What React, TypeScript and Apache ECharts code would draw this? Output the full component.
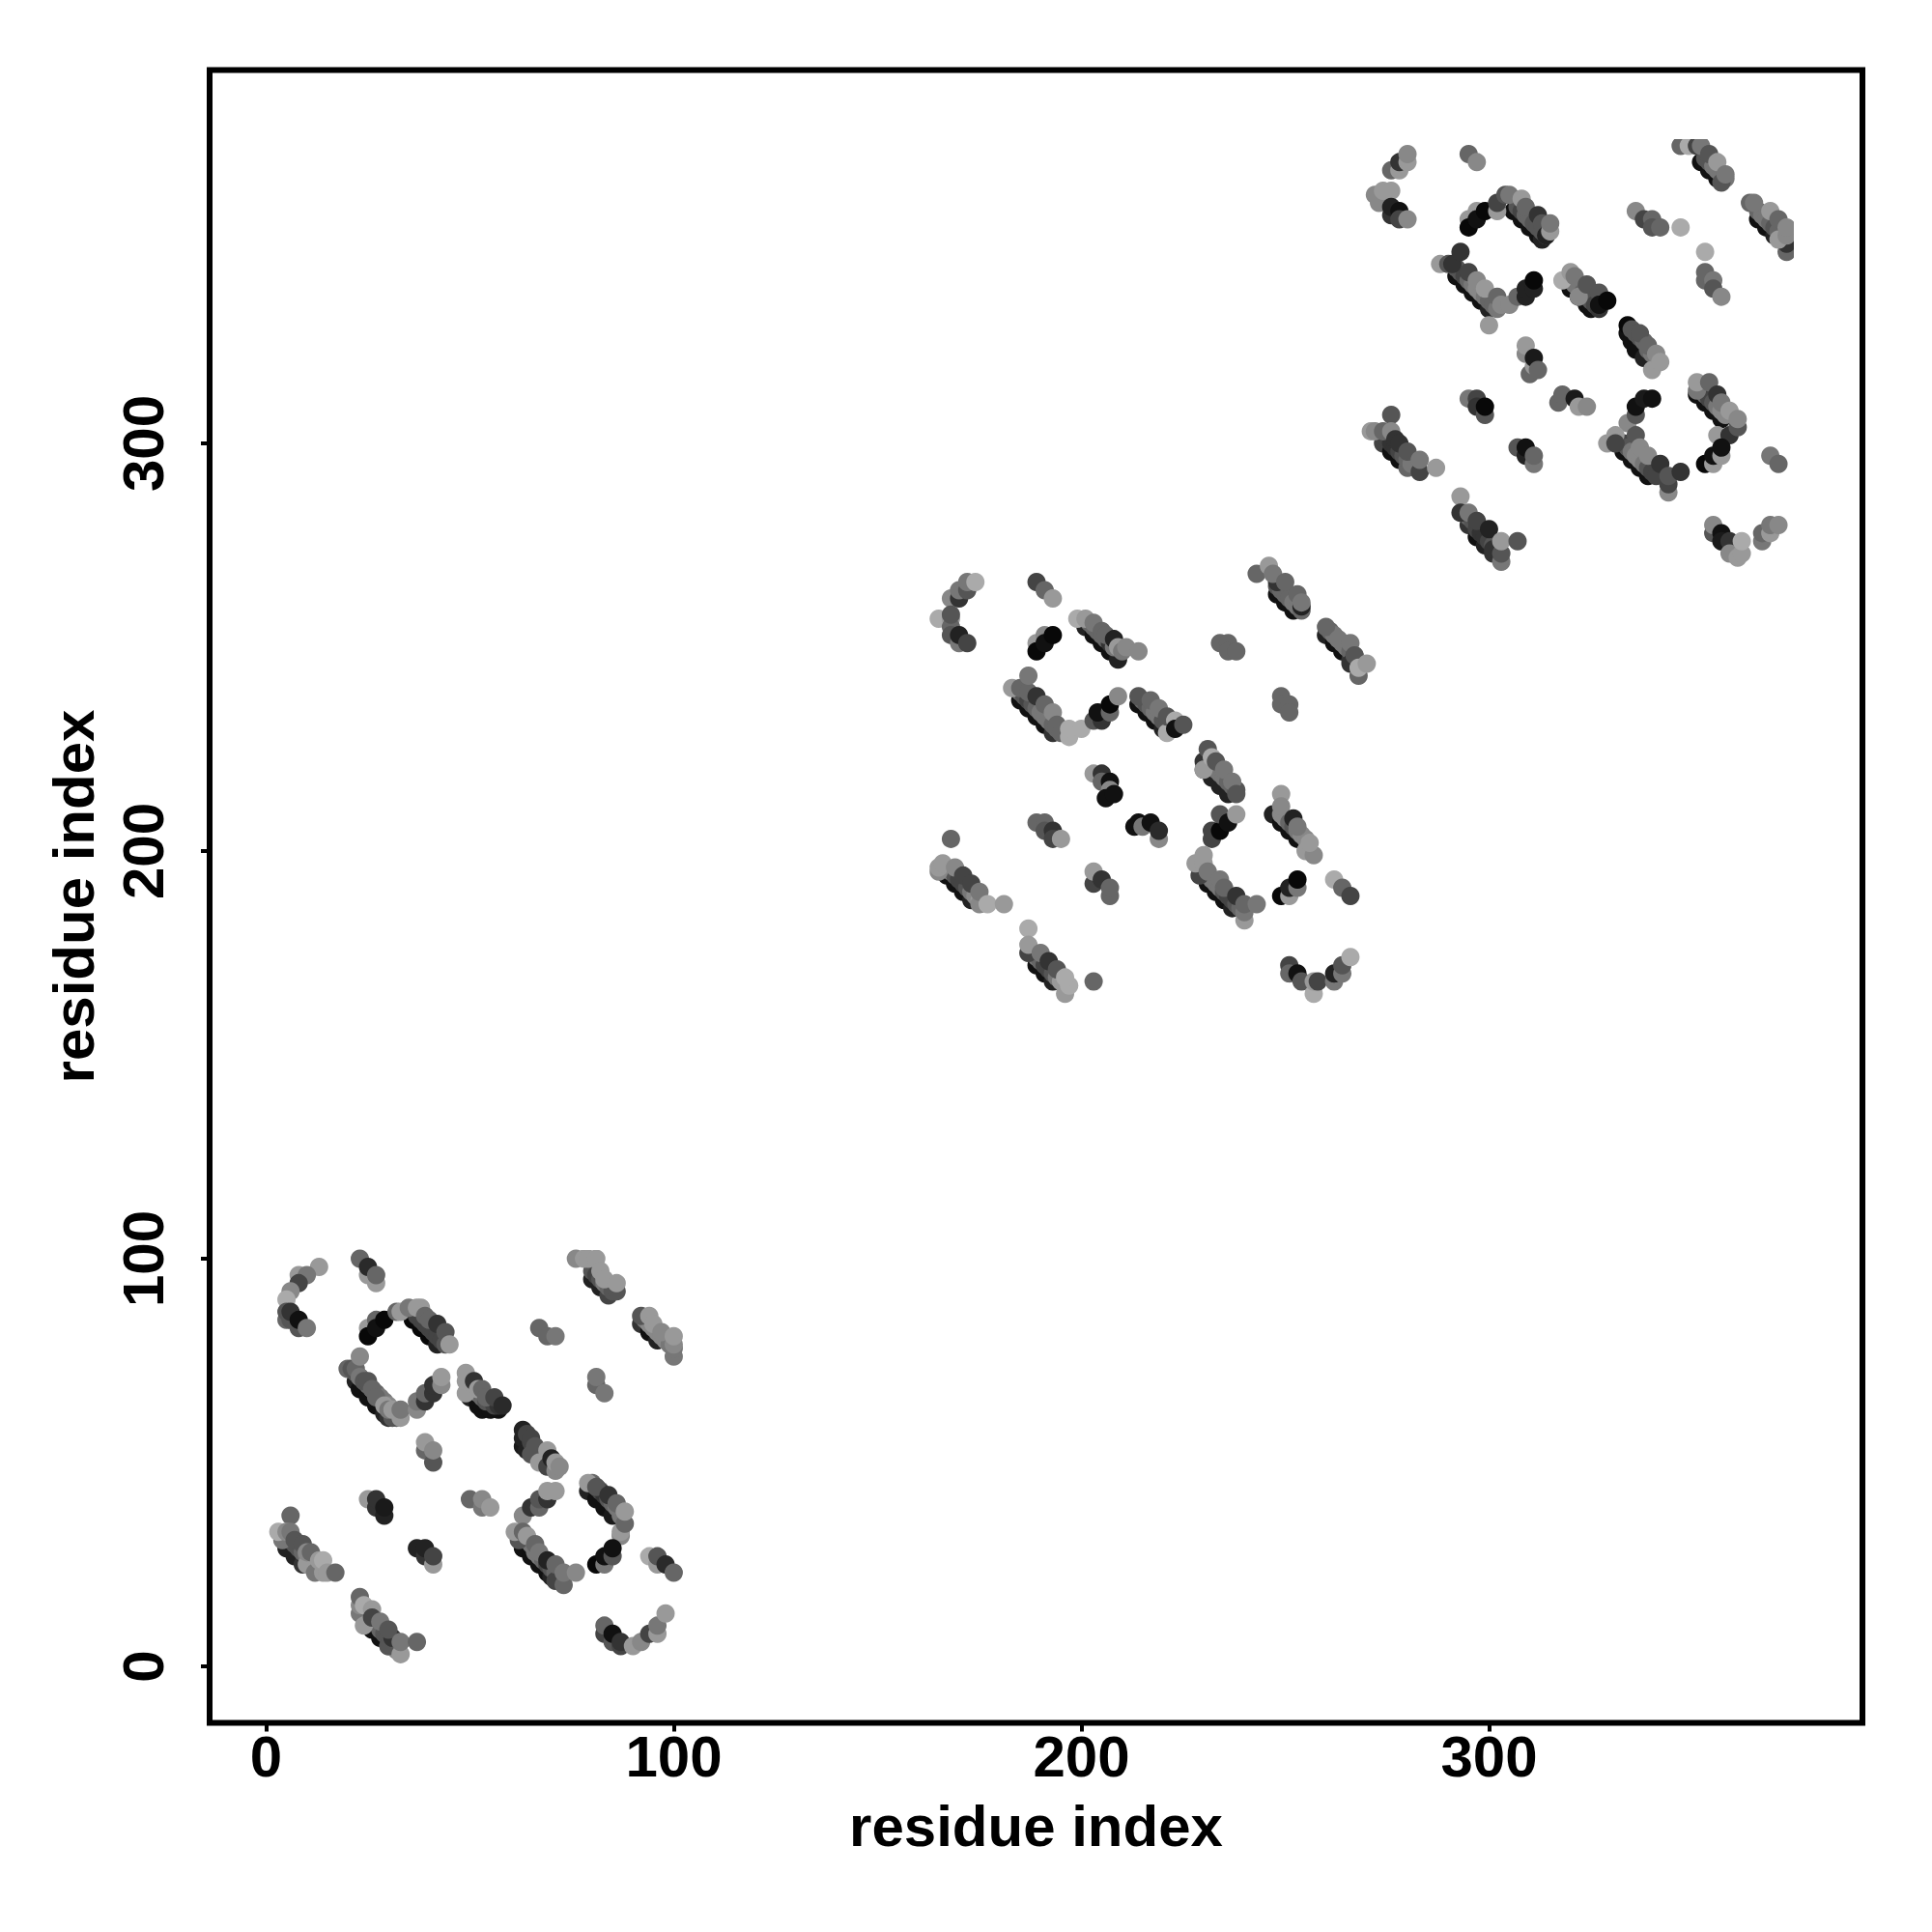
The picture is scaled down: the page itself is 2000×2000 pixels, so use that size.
import React, { useEffect, useRef } from "react";
import * as echarts from "echarts";

// [residue x, residue y, grey level]
const blockOneLower: number[][] = [
  [36,85,8],[38,83,8],[40,81,8],[42,79,34],
  [22,70,34],[23,68,17],[25,66,17],[27,64,17],[29,62,34],[30,61,51],
  [50,66,34],[52,64,17],[53,63,17],[55,63,17],[57,63,17],
  [63,54,26],[63,56,34],[63,58,34],[64,53,34],
  [79,43,34],[81,41,17],[83,39,17],[85,37,26],
  [63,29,17],[65,27,17],[67,25,17],[69,23,17],[70,22,34],
  [5,29,34],[7,27,34],[9,25,51],
  [26,9,17],[28,7,17],[30,5,85],
  [80,95,34],[82,93,34],[84,91,68],
  [92,84,51],[94,82,17],[96,80,34],
];
const blockOneMiddle: number[][] = [
  [37,86,68],[38,85,68],[39,84,68],[40,83,68],[41,82,68],[42,81,68],[43,80,68],[44,79,85],
  [22,72,85],[23,71,119],[24,70,85],[25,69,102],[26,68,102],[27,67,102],[28,66,119],[29,65,119],[30,64,136],[31,62,102],[32,61,102],
  [51,68,85],[52,67,119],[53,66,102],[54,65,85],[55,65,85],[56,64,68],[57,64,51],
  [64,57,68],[65,55,68],[66,53,85],[67,52,85],[68,51,85],[69,50,68],[70,49,85],
  [80,45,102],[81,44,85],[82,43,68],[83,42,51],[84,41,85],[85,40,102],[86,39,119],[87,37,119],
  [63,32,102],[64,31,119],[65,30,119],[66,28,119],[67,27,119],[68,26,102],[69,25,68],[70,24,85],[71,23,102],[72,22,102],
  [6,31,102],[7,30,85],[8,29,85],[9,28,102],[10,27,119],[11,26,136],[12,25,153],
  [25,13,119],[26,12,85],[27,11,102],[28,9,102],[29,8,85],[30,7,85],[31,5,119],[32,4,136],
  [80,97,85],[81,96,68],[82,95,85],[83,94,119],[84,93,102],[85,92,85],
  [93,85,119],[94,84,136],[95,83,136],[96,82,136],[97,81,136],[98,80,136],[99,79,119],
];
const blockOneUpper: number[][] = [
  [13,98,153],[8,96,153],[10,96,119],[8,94,68],[6,92,136],[5,90,170],[5,85,102],[5,87,85],[6,85,85],[6,87,51],[8,83,85],[8,85,17],[10,83,119],
  [23,100,102],[25,96,153],[27,94,153],[25,98,42],[27,96,102],
  [25,83,153],[25,81,8],[27,85,102],[27,83,17],[29,85,8],[32,87,102],[33,87,153],
  [35,88,119],[37,88,153],[38,88,153],[39,86,102],[40,85,102],[42,84,51],[44,82,85],[45,79,153],
  [31,61,85],[33,61,153],[20,73,102],[21,73,85],[22,73,102],[23,76,136],[23,71,119],[24,70,85],[25,70,85],[26,68,102],[27,66,102],[29,64,153],[30,63,119],[31,63,153],[33,63,119],
  [37,63,136],[37,65,119],[39,65,51],[39,67,102],[41,67,51],[41,69,51],[43,69,136],[43,71,153],
  [49,67,153],[49,70,153],[49,72,153],[51,70,51],[52,68,153],[53,68,102],[54,66,102],[56,66,68],[58,64,42],
  [67,83,102],[69,81,102],[71,81,119],
  [81,69,102],[81,71,119],[83,67,119],
  [39,53,102],[39,55,153],[41,50,85],[41,53,136],
  [65,52,85],[65,56,68],[66,54,85],[67,50,153],[69,49,68],[69,53,153],[70,51,34],[71,48,136],[71,50,153],[72,49,136],
  [25,41,153],[27,39,51],[27,41,51],[29,37,34],[29,39,26],
  [50,41,102],[53,39,119],[53,41,136],[55,39,153],
  [63,37,136],[65,39,51],[67,39,102],[67,41,85],[69,41,51],[69,43,153],[71,43,153],
  [79,45,153],[81,44,85],[84,42,51],[86,40,102],[87,32,136],[87,33,153],[88,35,102],[88,38,153],
  [81,25,8],[83,25,119],[83,27,17],[85,27,85],[85,29,17],
  [62,31,85],[61,33,153],[63,33,102],[64,32,153],[66,30,102],[67,28,119],[69,26,34],[71,21,68],[71,25,102],[73,20,102],[73,23,119],[76,23,136],
  [94,27,170],[96,25,153],[96,27,85],[98,25,42],[100,23,102],
  [6,37,102],[4,31,119],[3,33,170],[5,33,136],[6,33,119],[7,31,85],[9,30,85],[10,25,153],[10,28,136],[11,28,102],[12,23,119],[13,26,153],[14,23,153],[14,26,170],[15,23,153],[17,23,102],
  [37,29,34],[39,27,51],[39,29,34],[41,25,153],[41,27,68],
  [23,13,119],[23,15,136],[23,17,102],[24,10,153],[24,15,170],[26,14,153],[26,12,68],[28,11,119],[30,5,85],[31,7,51],[30,9,85],[33,3,153],[33,6,119],[37,6,102],
  [76,100,136],[78,100,153],[79,100,153],[81,100,153],[86,92,85],[82,97,153],[83,95,153],[86,94,153],
  [92,86,85],[94,86,153],[95,84,153],[97,82,136],[100,76,119],[100,78,119],[100,79,136],[100,81,153],
  [83,8,68],[83,10,102],[85,6,85],[85,8,17],[87,5,68],[87,6,51],[90,5,153],[92,6,136],[94,8,68],[96,8,153],[96,10,119],[98,13,153],
];

const blockTwoLower: number[][] = [
  [201,255,34],[203,253,17],[205,251,17],[207,249,17],[209,247,34],
  [185,237,17],[187,235,17],[189,233,17],[191,231,17],[193,229,51],
  [214,236,17],[216,234,17],[218,232,17],[220,230,34],
  [248,263,17],[250,261,17],[252,259,17],
  [260,253,34],[262,251,17],[264,249,17],[266,247,51],
  [230,222,51],[230,220,68],[232,218,34],[234,216,34],[236,214,34],
  [247,209,34],[249,207,17],[251,205,17],[253,203,17],
  [167,194,17],[169,192,17],[171,190,17],[173,188,34],
  [231,192,17],[233,190,17],[235,188,17],[237,186,34],
  [189,172,17],[191,170,17],[193,168,34],
];
const blockTwoMiddle: number[][] = [
  [202,256,102],[203,255,102],[204,254,102],[205,253,102],[206,252,102],[207,251,51],[208,250,119],
  [185,239,102],[186,238,85],[187,237,68],[188,236,85],[189,235,102],[190,234,119],[191,233,119],[192,232,119],[193,231,102],[194,230,102],
  [215,237,102],[216,236,85],[217,235,102],[218,234,119],[219,233,119],[220,232,85],[221,231,85],[222,230,85],
  [248,265,85],[249,264,102],[250,263,102],[251,262,102],[252,261,119],[253,260,119],[254,259,102],
  [261,254,102],[262,253,119],[263,252,119],[264,251,119],[265,250,119],[266,249,102],[267,248,85],
  [232,221,85],[233,220,119],[234,219,119],[235,218,119],[236,217,102],[237,216,102],[238,215,85],
  [249,209,136],[250,208,136],[251,207,102],[252,206,85],[253,205,119],[254,204,136],[255,203,136],
  [168,195,136],[169,194,85],[170,193,68],[171,192,68],[172,191,85],[173,190,119],[174,189,136],[175,188,153],
  [231,194,119],[232,193,119],[233,192,119],[234,191,119],[235,190,85],[236,189,68],[237,188,68],[238,187,85],[239,186,102],
  [189,174,119],[190,173,102],[191,172,68],[192,171,68],[193,170,85],[194,169,119],[195,168,153],
];
const blockTwoUpper: number[][] = [
  [168,262,136],[170,262,51],[170,264,119],[172,264,85],[172,266,119],[174,266,170],
  [165,257,170],[168,257,153],[168,255,102],[168,253,85],[168,258,85],[170,251,119],[170,253,34],[172,251,68],
  [189,266,68],[191,264,102],[193,262,153],
  [189,251,153],[189,249,8],[191,253,136],[191,251,17],[193,253,8],
  [199,257,170],[201,257,153],[203,256,119],[205,254,102],[206,253,102],[208,252,34],[209,250,153],[210,249,119],[211,250,136],[214,249,136],
  [183,240,153],[185,240,102],[187,239,102],[187,243,119],[189,238,51],[191,236,102],[193,234,136],[194,231,102],[195,229,102],[197,228,170],[197,230,170],[200,230,170],
  [203,232,85],[205,232,51],[204,234,17],[207,234,102],[207,236,8],[209,238,136],
  [214,238,85],[217,237,102],[219,235,119],[221,229,170],[221,233,85],[223,232,170],[223,230,17],[225,231,85],
  [234,251,102],[236,251,102],[236,249,102],[238,249,102],
  [243,268,102],[248,266,51],[246,270,153],[247,268,119],[250,266,102],[253,263,102],[254,260,34],[254,261,119],
  [260,255,102],[263,252,119],[266,246,51],[266,251,119],[267,248,85],[268,243,102],[268,245,170],[270,246,153],
  [249,238,102],[249,236,102],[251,236,102],[251,234,102],
  [203,219,153],[205,219,51],[205,217,102],[207,217,17],[207,215,136],[206,213,17],[208,214,17],
  [230,220,153],[231,225,85],[232,223,170],[233,222,85],[235,220,119],[237,217,119],[238,214,85],
  [189,207,102],[191,207,102],[191,205,85],[193,205,51],[193,203,68],[195,203,153],
  [213,206,17],[214,207,17],[215,206,119],[217,207,17],[219,203,136],[219,205,42],
  [232,203,68],[232,205,68],[234,205,8],[234,209,85],[236,207,17],[238,209,153],
  [249,214,153],[249,211,136],[252,208,34],[253,206,119],[255,200,153],[257,199,136],[256,202,153],
  [249,189,8],[251,189,153],[251,191,34],[253,191,119],[253,193,8],
  [262,193,170],[264,191,102],[266,189,68],
  [168,203,102],
  [165,195,136],[165,196,153],[166,197,153],[169,196,136],[171,194,68],[173,192,68],[175,187,136],[175,190,119],[177,187,170],[181,187,153],
  [203,192,68],[203,195,153],[205,193,51],[207,189,102],[207,191,102],
  [229,194,68],[228,197,153],[230,197,153],[230,199,153],[231,195,119],[234,193,119],[235,191,102],[238,189,51],[240,183,153],[240,185,119],[240,187,102],[243,187,119],
  [187,181,170],[187,175,68],[187,177,153],[190,175,119],[192,173,51],[194,171,85],[196,165,153],[197,167,170],[196,169,170],
  [203,168,102],
  [251,172,68],[251,170,102],[253,170,17],[254,168,85],[257,165,170],[257,168,153],[258,168,68],[262,168,119],[262,170,34],[264,170,119],[264,172,85],[266,174,170],
];

const blockThreeLower: number[][] = [
  [306,357,17],[308,355,17],[310,353,17],[312,351,17],[313,350,34],
  [292,341,17],[294,339,17],[296,337,17],[298,335,17],[300,333,34],
  [320,338,17],[322,336,17],[324,334,17],[325,333,17],
  [352,369,17],[354,367,17],[356,365,17],
  [366,355,17],[368,353,17],[370,351,34],
  [334,327,17],[334,329,8],[335,325,17],[336,323,17],[338,321,34],
  [351,312,17],[353,310,17],[355,308,17],[357,306,17],
  [333,298,17],[335,296,17],[337,294,17],[339,292,17],
  [274,300,68],[276,298,17],[278,296,17],[280,294,102],
  [295,280,51],[297,277,17],[299,275,34],[301,273,51],
];
const blockThreeMiddle: number[][] = [
  [307,358,85],[308,357,68],[309,356,102],[310,355,102],[311,354,85],[312,353,85],[313,352,85],[314,351,102],
  [292,343,85],[293,342,85],[294,341,68],[295,340,102],[296,339,119],[297,338,136],[298,337,136],[299,336,119],[300,335,102],[301,334,102],
  [321,339,119],[322,338,119],[323,337,102],[324,336,85],[325,335,85],[326,334,68],[327,333,51],
  [353,370,85],[354,369,85],[355,368,119],[356,367,119],[357,366,119],[358,365,119],
  [366,357,102],[367,356,119],[368,355,119],[369,354,102],[370,353,85],[371,352,102],[372,351,102],
  [335,328,85],[336,327,85],[337,326,85],[338,325,102],[339,323,102],[340,322,119],
  [352,313,102],[353,312,102],[354,311,68],[355,310,85],[356,309,119],[357,308,136],[358,307,136],
  [333,300,68],[334,299,85],[335,298,119],[336,297,136],[337,296,136],[338,295,119],[339,294,85],[340,293,68],[341,292,68],
  [275,301,68],[276,300,51],[277,299,51],[278,298,68],[279,297,85],[280,296,102],[281,295,119],
  [295,282,102],[296,281,85],[297,279,68],[298,278,51],[299,277,51],[300,276,68],[301,275,85],[302,274,85],
];
const blockThreeUpper: number[][] = [
  [276,367,102],[278,367,153],[278,369,51],[280,369,153],[280,371,136],
  [272,361,136],[273,359,136],[274,362,153],[276,362,153],[276,356,51],[276,358,34],[278,357,17],[278,355,68],[280,355,136],
  [295,371,102],[297,369,136],
  [295,355,153],[295,353,8],[297,357,153],[297,355,17],[299,357,8],[302,357,153],[302,359,68],[304,361,85],[305,361,119],
  [308,360,153],[309,358,102],[312,356,51],[313,354,85],[314,351,34],[315,352,153],[315,354,119],
  [288,344,153],[290,344,85],[291,344,51],[293,347,51],[295,342,68],[297,340,136],[299,338,153],[300,329,153],[302,333,119],[302,336,102],[303,334,136],[305,334,136],
  [307,336,102],[309,336,34],[309,338,34],[311,338,34],[311,340,8],
  [318,340,170],[320,342,153],[321,341,119],[322,336,136],[324,339,85],[327,337,85],[327,334,17],[329,335,8],
  [336,357,136],[338,355,68],[340,355,102],[340,353,85],[342,353,102],[347,353,170],
  [353,347,170],[353,340,102],[353,342,102],[355,340,119],[355,338,85],[357,336,136],
  [347,373,102],[349,373,170],[351,373,68],[352,373,119],[354,371,85],[356,369,153],[357,364,85],[358,366,119],
  [364,359,102],[365,359,119],[369,357,153],[371,355,102],[373,347,102],[373,349,51],[371,350,153],[373,351,136],[373,353,136],
  [309,322,136],[309,324,153],[310,317,102],[311,319,153],[311,321,26],[312,318,102],
  [337,327,85],[339,324,102],[340,318,153],[341,322,136],[342,320,153],
  [295,311,119],[297,311,68],[297,309,51],[299,307,85],[299,309,8],
  [317,310,102],[318,312,102],[321,311,26],[322,309,153],[324,309,136],
  [334,305,136],[336,307,85],[336,309,17],[338,311,26],[340,311,17],
  [351,313,119],[351,315,153],[354,315,102],[356,312,51],[357,310,119],[359,308,153],[356,302,153],[359,302,51],[361,304,85],[361,306,136],
  [353,295,8],[355,295,153],[355,297,17],[357,297,153],[357,299,17],
  [369,297,119],[371,295,102],
  [329,300,153],[331,302,153],[331,300,68],[336,302,85],[337,299,136],[339,297,136],[342,295,51],[344,288,136],[344,290,68],[344,292,85],[347,293,51],
  [276,307,85],[271,303,153],[272,303,136],[274,303,102],[276,303,136],[277,301,51],[278,300,51],[280,298,85],[283,293,68],[283,296,119],[287,294,153],
  [307,299,85],[309,297,34],[309,299,17],[311,295,119],[311,297,102],
  [293,287,153],[293,283,51],[295,283,119],[297,281,68],[300,279,34],[301,274,51],[303,271,119],[303,273,85],[303,276,153],[307,276,85],
  [355,278,85],[355,280,136],[357,278,17],[357,276,26],[359,276,51],[359,273,136],[361,272,153],[362,273,153],[362,276,170],[367,276,119],[367,278,102],[369,278,153],[369,280,119],[371,280,136],
];

const tickValues = [0, 100, 200, 300];
const axisTitle = "residue index";

const greyOf = (p: any) => {
  const g = p.data[2];
  return `rgb(${g},${g},${g})`;
};

const pointSeries = (data: number[][]) => ({
  type: "scatter",
  data,
  symbol: "circle",
  symbolSize: 19,
  clip: false,
  itemStyle: { color: greyOf, opacity: 1 },
});

const axisBase = {
  type: "value",
  min: -13.85,
  max: 391.6,
  name: axisTitle,
  nameLocation: "middle",
  nameTextStyle: { fontFamily: "Liberation Sans", fontWeight: "bold", fontSize: 60, color: "#000" },
  splitLine: { show: false },
  axisLine: { show: false, onZero: false },
  axisTick: { show: true, length: 9, lineStyle: { color: "#000", width: 4 }, customValues: tickValues },
  axisLabel: {
    show: true,
    customValues: tickValues,
    fontFamily: "Liberation Sans",
    fontWeight: "bold",
    fontSize: 60,
    color: "#000",
  },
};

const mask = (x: number, y: number, width: number, height: number) => ({
  type: "rect",
  z: 100,
  silent: true,
  shape: { x, y, width, height },
  style: { fill: "#fff" },
});

export default function App() {
  const ref = useRef<HTMLDivElement>(null);
  useEffect(() => {
    const chart = echarts.init(ref.current!, null, { renderer: "svg" });
    chart.setOption({
      animation: false,
      backgroundColor: "#fff",
      grid: {
        left: 217,
        top: 72.5,
        width: 1711,
        height: 1711,
        show: true,
        borderColor: "#000",
        borderWidth: 6,
        backgroundColor: "transparent",
      },
      xAxis: { ...axisBase, nameGap: 77, axisLabel: { ...axisBase.axisLabel, margin: 5 } },
      yAxis: { ...axisBase, nameGap: 111, axisLabel: { ...axisBase.axisLabel, rotate: 90, margin: 39 } },
      series: [
        pointSeries(blockOneLower), pointSeries(blockOneMiddle), pointSeries(blockOneUpper),
        pointSeries(blockTwoLower), pointSeries(blockTwoMiddle), pointSeries(blockTwoUpper),
        pointSeries(blockThreeLower), pointSeries(blockThreeMiddle), pointSeries(blockThreeUpper),
      ],
      graphic: [
        mask(707, 1280, 16, 420),
        mask(600, 1278, 123, 16),
        mask(1857, 130, 18, 240),
        mask(1600, 128, 275, 16),
      ],
    });
    return () => chart.dispose();
  }, []);
  return <div ref={ref} style={{ position: "absolute", left: 0, top: 0, width: 2000, height: 2000 }} />;
}
